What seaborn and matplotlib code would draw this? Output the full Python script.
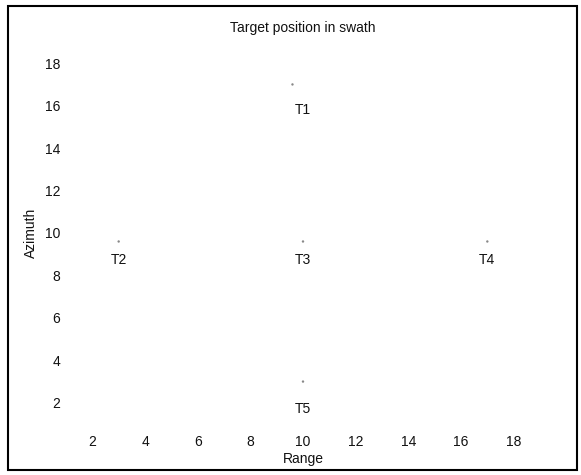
import seaborn as sns
import matplotlib.pyplot as plt
import matplotlib.patches as patches
import pandas as pd

# target labels and where they sit in the swath
targets = ["T1", "T2", "T3", "T4", "T5"]
label_range = [10, 3, 10, 17, 10]
label_azimuth = [15.8, 8.75, 8.75, 8.75, 1.7]
# faint point responses just above each label
dot_range = [9.6, 3, 10, 17, 10]
dot_azimuth = [17, 9.6, 9.6, 9.6, 3.0]

xticks = [2, 4, 6, 8, 10, 12, 14, 16, 18]
yticks = [2, 4, 6, 8, 10, 12, 14, 16, 18]

sns.set_style("white")
plt.rcParams["font.family"] = ["Liberation Sans", "DejaVu Sans"]

fig = plt.figure(figsize=(5.81, 4.75), dpi=100)
ax = fig.add_axes([66 / 581, 51 / 475, 474 / 581, 382 / 475])

dots = pd.DataFrame({"Range": dot_range, "Azimuth": dot_azimuth})
sns.scatterplot(data=dots, x="Range", y="Azimuth", ax=ax, s=3,
                color="#888888", edgecolor="none", legend=False)

for name, x, y in zip(targets, label_range, label_azimuth):
    ax.text(x, y, name, ha="center", va="center", fontsize=10,
            color="#111111")

ax.set_xlim(1, 19)
ax.set_ylim(1, 19)
ax.set_xticks(xticks)
ax.set_yticks(yticks)
ax.tick_params(length=0, labelsize=10, labelcolor="#111111")
ax.tick_params(axis="x", pad=8)
ax.tick_params(axis="y", pad=4)
for s in ax.spines.values():
    s.set_visible(False)

ax.set_xlabel("Range", fontsize=10, labelpad=2, color="#111111")
ax.set_ylabel("Azimuth", fontsize=10, labelpad=5, color="#111111")
ax.set_title("Target position in swath", fontsize=10, pad=7, color="#111111")

# scanned frame round the whole figure
frame = patches.Rectangle((8 / 581, 5 / 475), 569 / 581, 464 / 475,
                          transform=fig.transFigure, fill=False,
                          edgecolor="black", linewidth=1.5)
fig.patches.append(frame)

plt.savefig("out.png", dpi=100)
